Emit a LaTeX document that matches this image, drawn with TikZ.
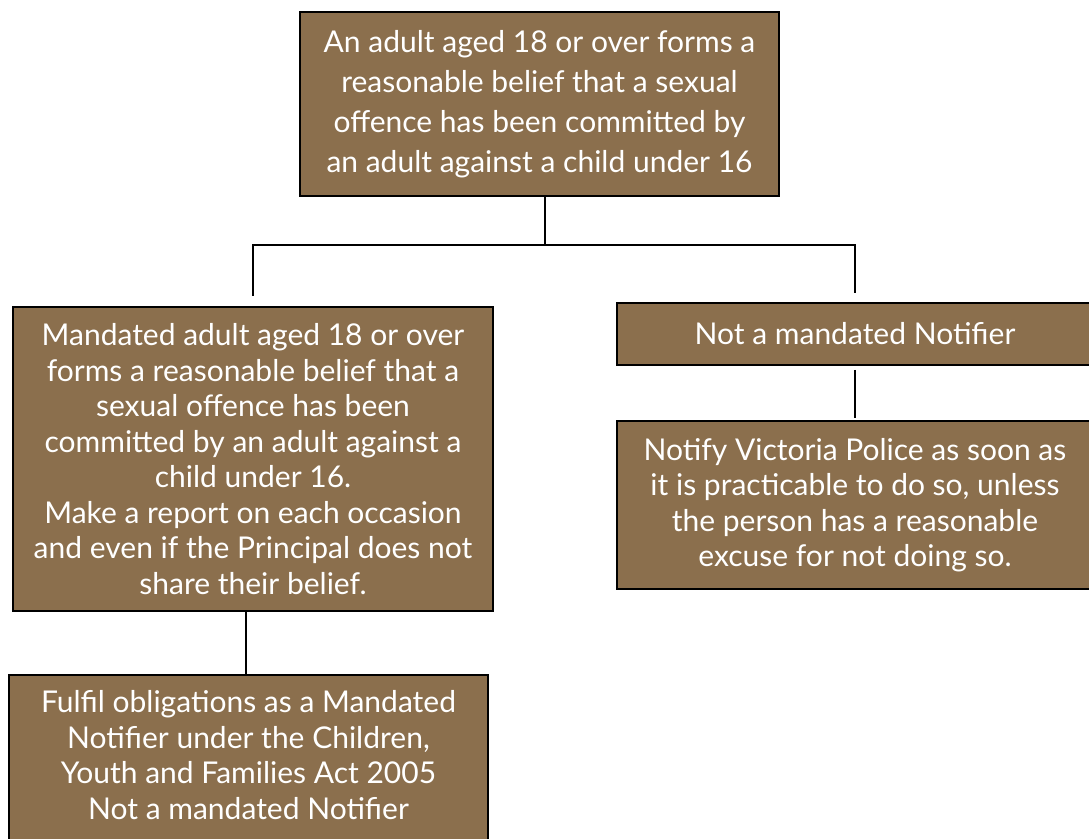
\documentclass[tikz,border=0pt]{standalone}
\usepackage{fontspec}
\setmainfont{Lato}
\definecolor{boxbrown}{RGB}{139,111,77}
\tikzset{
    box/.style = {draw = black, line width = 1.2pt, fill = boxbrown, text = white,
        align = center, inner sep = 0pt, font = \fontsize{22.5}{26.6}\selectfont},
    link/.style = {draw = black, line width = 1.2pt}
}
\begin{document}
\begin{tikzpicture}[x = 0.75pt, y = -0.75pt]
            \useasboundingbox (0, 0) rectangle (1089, 839);

            \node [box, minimum width = 359.25pt, minimum height = 138pt,
                font = \fontsize{22.5}{30}\selectfont] (top) at (539.5, 104)
                {An adult aged 18 or over forms a\\ reasonable belief that a sexual\\ offence has been committed by\\ an adult against a child under 16};
            \node [box, minimum width = 360pt, minimum height = 228pt] (mand) at (253, 459)
                {Mandated adult aged 18 or over\\ forms a reasonable belief that a\\ sexual offence has been\\ committed by an adult against a\\ child under 16.\\ Make a report on each occasion\\ and even if the Principal does not\\ share their belief.};
            \node [box, minimum width = 357pt, minimum height = 46.5pt] (notm) at (855, 334)
                {Not a mandated Notifier};
            \node [box, minimum width = 357pt, minimum height = 126pt] (notify) at (855, 505)
                {Notify Victoria Police as soon as\\ it is practicable to do so, unless\\ the person has a reasonable\\ excuse for not doing so.};
            \node [box, minimum width = 359.25pt, minimum height = 127.5pt, text depth = 7.5pt] (fulfil) at (248.5, 760)
                {Fulfil obligations as a Mandated\\ Notifier under the Children,\\ Youth and Families Act 2005\\ Not a mandated Notifier};

            \coordinate (fork) at (545, 245);
            \draw [link] (top.south -| fork) -- (fork);
            \draw [link, shorten >= 7.5pt] (fork) -| (mand.north);
            \draw [link, shorten >= 7pt] (fork) -| (notm.north);
            \draw [link, shorten < = 3pt, shorten >= 2pt] (notm) -- (notify);
            \draw [link] (fulfil.north -| 246, 0) -- (mand.south -| 246, 0);
        \end{tikzpicture}
\end{document}
